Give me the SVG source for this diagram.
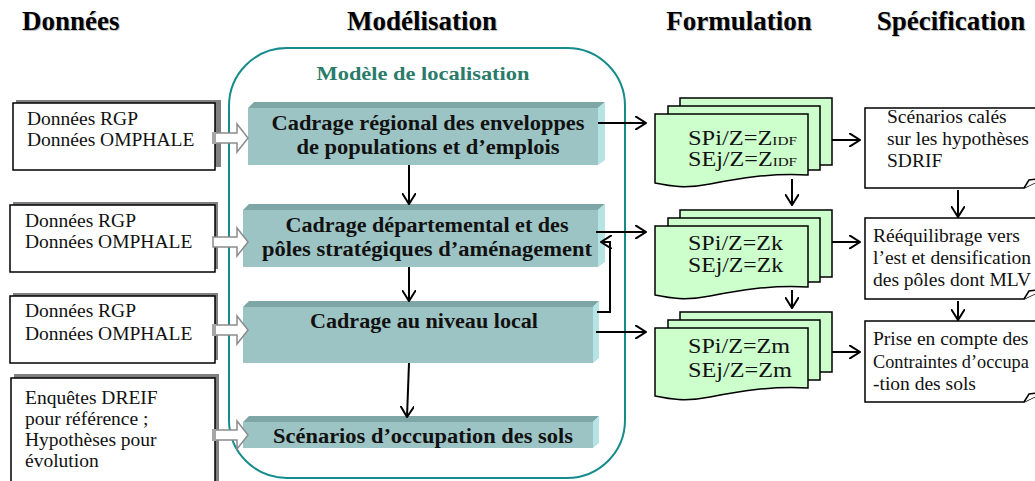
<svg xmlns="http://www.w3.org/2000/svg" width="1035" height="481" viewBox="0 0 1035 481">
<defs>
<marker id="v" viewBox="0 0 12 14" refX="11" refY="7" markerWidth="12" markerHeight="14" markerUnits="userSpaceOnUse" orient="auto">
<path d="M0,0 L11,7 L0,14" fill="none" stroke="#000" stroke-width="2"/>
</marker>
<style>
.hd{font-family:"Liberation Serif",serif;font-weight:bold;font-size:27px;fill:#000}
.hs{font-family:"Liberation Serif",serif;font-weight:bold;font-size:27px;fill:#c4c4c4}
.bx{font-family:"Liberation Serif",serif;font-weight:bold;font-size:20px;fill:#111;text-anchor:middle}
.tx{font-family:"Liberation Serif",serif;font-size:19.5px;fill:#111}
.dt{font-family:"Liberation Serif",serif;font-size:20px;fill:#111}
.sub{font-size:12.5px}
.face{fill:#9dc4c4}
.top{fill:#7fa6a6}
.side{fill:#b6e3e3}
.data{fill:#fff;stroke:#000;stroke-width:1.5}
.shadow{fill:#808080}
.doc{fill:#ccffcc;stroke:#000;stroke-width:1.5}
.spec{fill:#fff;stroke:#000;stroke-width:1.5}
.ln{fill:none;stroke:#000;stroke-width:2;marker-end:url(#v)}
.blk{fill:#fff;stroke:#8c8c8c;stroke-width:1.5}
.blt{fill:#a6a6a6}
</style>
</defs>

<g id="headers">
<text class="hs" x="23" y="31">Données</text>
<text class="hd" x="22" y="30">Données</text>
<text class="hs" x="423" y="31" text-anchor="middle">Modélisation</text>
<text class="hd" x="422" y="30" text-anchor="middle">Modélisation</text>
<text class="hs" x="740" y="31" text-anchor="middle">Formulation</text>
<text class="hd" x="739" y="30" text-anchor="middle">Formulation</text>
<text class="hs" x="952" y="31" text-anchor="middle">Spécification</text>
<text class="hd" x="951" y="30" text-anchor="middle">Spécification</text>
</g>

<g id="container">
<rect x="229" y="48" width="396" height="430" rx="58" ry="58" fill="none" stroke="#168b8b" stroke-width="2"/>
<text x="423" y="80" text-anchor="middle" textLength="213" lengthAdjust="spacingAndGlyphs" style="font-family:'Liberation Serif',serif;font-weight:bold;font-size:19px;fill:#2b7b6b">Modèle de localisation</text>
</g>

<g id="data1">
<rect class="shadow" x="16" y="100" width="205" height="67"/>
<rect class="data" x="13" y="103" width="202" height="67"/>
<text class="tx" x="27" y="125">Données RGP</text>
<text class="tx" x="27" y="146">Données OMPHALE</text>
</g>
<g id="data2">
<rect class="shadow" x="13" y="202" width="205" height="67"/>
<rect class="data" x="10" y="205" width="205" height="67"/>
<text class="tx" x="25" y="227">Données RGP</text>
<text class="tx" x="25" y="248">Données OMPHALE</text>
</g>
<g id="data3">
<rect class="shadow" x="13" y="293" width="205" height="67"/>
<rect class="data" x="10" y="296" width="205" height="67"/>
<text class="tx" x="25" y="317">Données RGP</text>
<text class="tx" x="25" y="340">Données OMPHALE</text>
</g>
<g id="data4">
<rect class="shadow" x="14" y="374" width="205" height="120"/>
<rect class="data" x="11" y="378" width="204" height="120"/>
<text class="tx" x="25" y="404">Enquêtes DREIF</text>
<text class="tx" x="25" y="425">pour référence ;</text>
<text class="tx" x="25" y="446">Hypothèses pour</text>
<text class="tx" x="25" y="467">évolution</text>
</g>

<g id="box1">
<polygon class="top" points="248,108 254,102 605,102 598,108"/>
<polygon class="side" points="598,108 605,102 605,160 598,165"/>
<rect class="face" x="248" y="108" width="350" height="57"/>
<text class="bx" x="428" y="130" textLength="313" lengthAdjust="spacingAndGlyphs">Cadrage régional des enveloppes</text>
<text class="bx" x="428" y="154" textLength="263" lengthAdjust="spacingAndGlyphs">de populations et d’emplois</text>
</g>
<g id="box2">
<polygon class="top" points="243,210 249,204 605,204 598,210"/>
<polygon class="side" points="598,210 605,204 605,262 598,267"/>
<rect class="face" x="243" y="210" width="355" height="57"/>
<text class="bx" x="427" y="232" textLength="283" lengthAdjust="spacingAndGlyphs">Cadrage départemental et des</text>
<text class="bx" x="427" y="256" textLength="330" lengthAdjust="spacingAndGlyphs">pôles stratégiques d’aménagement</text>
</g>
<g id="box3">
<polygon class="top" points="243,307 249,301 599,301 593,307"/>
<polygon class="side" points="593,307 599,301 599,358 593,363"/>
<rect class="face" x="243" y="307" width="350" height="56"/>
<text class="bx" x="424" y="328" textLength="228" lengthAdjust="spacingAndGlyphs">Cadrage au niveau local</text>
</g>
<g id="box4">
<polygon class="top" points="243,422 249,416 599,416 593,422"/>
<polygon class="side" points="593,422 599,416 599,443 593,448"/>
<rect class="face" x="243" y="422" width="350" height="26"/>
<text class="bx" x="423" y="443" textLength="300" lengthAdjust="spacingAndGlyphs">Scénarios d’occupation des sols</text>
</g>

<g id="doc1">
<path class="doc" d="M680,98 H832 V165 H680 Z"/>
<path class="doc" d="M668,106 H820 V170 H668 Z"/>
<path class="doc" d="M655,114 H808 V175 C770,173 740,178 710,184 C685,189 670,186 655,183 Z"/>
<text class="dt" x="688" y="145" textLength="109" lengthAdjust="spacingAndGlyphs">SPi/Z=Z<tspan class="sub">IDF</tspan></text>
<text class="dt" x="688" y="166" textLength="109" lengthAdjust="spacingAndGlyphs">SEj/Z=Z<tspan class="sub">IDF</tspan></text>
</g>
<g id="doc2">
<path class="doc" d="M680,210 H832 V277 H680 Z"/>
<path class="doc" d="M668,218 H820 V282 H668 Z"/>
<path class="doc" d="M655,226 H808 V287 C770,285 740,290 710,296 C685,301 670,298 655,295 Z"/>
<text class="dt" x="688" y="250" textLength="95" lengthAdjust="spacingAndGlyphs">SPi/Z=Zk</text>
<text class="dt" x="688" y="272" textLength="95" lengthAdjust="spacingAndGlyphs">SEj/Z=Zk</text>
</g>
<g id="doc3">
<path class="doc" d="M680,312 H832 V372 H680 Z"/>
<path class="doc" d="M668,320 H820 V380 H668 Z"/>
<path class="doc" d="M655,328 H808 V388 C770,386 740,391 710,397 C685,402 670,399 655,396 Z"/>
<text class="dt" x="688" y="353" textLength="102" lengthAdjust="spacingAndGlyphs">SPi/Z=Zm</text>
<text class="dt" x="688" y="377" textLength="104" lengthAdjust="spacingAndGlyphs">SEj/Z=Zm</text>
</g>

<g id="spec1">
<path class="spec" d="M865,108 H1045 V178 L1024,188 H865 Z"/>
<path class="spec" d="M1024,188 L1029,180 L1045,178"/>
<text class="tx" x="887" y="123">Scénarios calés</text>
<text class="tx" x="887" y="145">sur les hypothèses</text>
<text class="tx" x="887" y="167">SDRIF</text>
</g>
<g id="spec2">
<path class="spec" d="M865,218 H1045 V289 L1024,299 H865 Z"/>
<path class="spec" d="M1024,299 L1029,291 L1045,289"/>
<text class="tx" x="873" y="242">Rééquilibrage vers</text>
<text class="tx" x="873" y="264">l’est et densification</text>
<text class="tx" x="873" y="286">des pôles dont MLV</text>
</g>
<g id="spec3">
<path class="spec" d="M865,321 H1045 V392 L1024,402 H865 Z"/>
<path class="spec" d="M1024,402 L1029,394 L1045,392"/>
<text class="tx" x="873" y="345">Prise en compte des</text>
<text class="tx" x="873" y="368" style="font-size:18.3px">Contraintes d’occupa</text>
<text class="tx" x="873" y="390">-tion des sols</text>
</g>

<g id="connectors">
<path class="blk" d="M213,133 H237 V124 L248,138 L237,152 V143 H213 Z"/>
<rect class="blt" x="212" y="132" width="4" height="12"/>
<path class="blk" d="M213,237 H237 V228 L248,242 L237,256 V247 H213 Z"/>
<path class="blk" d="M213,325 H237 V316 L248,330 L237,344 V335 H213 Z"/>
<rect class="blt" x="212" y="324" width="4" height="12"/>
<path class="blk" d="M213,430 H237 V421 L248,435 L237,449 V440 H213 Z"/>
<rect class="blt" x="212" y="429" width="4" height="12"/>

<path class="ln" d="M409,165 V204"/>
<path class="ln" d="M409,267 V301"/>
<path class="ln" d="M409,363 L407,417"/>
<path class="ln" d="M598,123 H646"/>
<path class="ln" d="M596,232 H646"/>
<path class="ln" d="M597,312 H610 V242 H601"/>
<path class="ln" d="M596,332 H646"/>
<path class="ln" d="M792,179 V205"/>
<path class="ln" d="M792,290 V308"/>
<path class="ln" d="M832,140 H860"/>
<path class="ln" d="M832,242 H860"/>
<path class="ln" d="M832,352 H860"/>
<path class="ln" d="M958,190 V217"/>
<path class="ln" d="M958,301 V320"/>
</g>
</svg>
